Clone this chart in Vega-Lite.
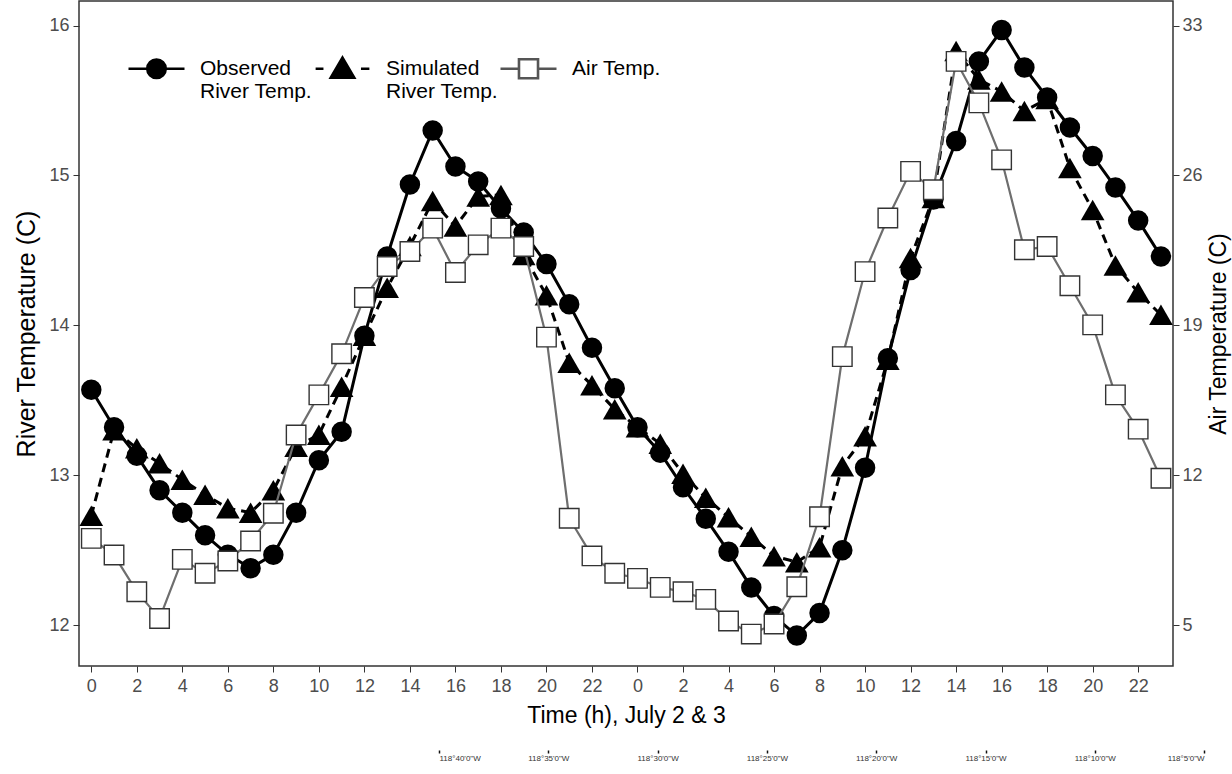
{
  "$schema": "https://vega.github.io/schema/vega-lite/v6.json",
  "width": 1094,
  "height": 665,
  "autosize": {"type": "none"},
  "padding": {"left": 79, "top": 1, "right": 59, "bottom": 108},
  "background": "white",
  "config": {
    "font": "Liberation Sans",
    "view": {"stroke": "#333333", "strokeWidth": 1.5},
    "axis": {
      "grid": false,
      "domain": false,
      "labelFont": "Liberation Sans",
      "titleFont": "Liberation Sans",
      "labelColor": "#4d4d4d",
      "tickColor": "#333333",
      "labelFontSize": 18,
      "titleFontWeight": "normal",
      "titleColor": "black"
    }
  },
  "datasets": {
    "temps": [
      {"h": 0, "obs": 13.57, "sim": 12.73, "air": 9.05},
      {"h": 1, "obs": 13.32, "sim": 13.30, "air": 8.27},
      {"h": 2, "obs": 13.13, "sim": 13.18, "air": 6.56},
      {"h": 3, "obs": 12.90, "sim": 13.08, "air": 5.31},
      {"h": 4, "obs": 12.75, "sim": 12.97, "air": 8.07},
      {"h": 5, "obs": 12.60, "sim": 12.87, "air": 7.42},
      {"h": 6, "obs": 12.47, "sim": 12.78, "air": 7.99},
      {"h": 7, "obs": 12.38, "sim": 12.75, "air": 8.93},
      {"h": 8, "obs": 12.47, "sim": 12.90, "air": 10.22},
      {"h": 9, "obs": 12.75, "sim": 13.19, "air": 13.88},
      {"h": 10, "obs": 13.10, "sim": 13.27, "air": 15.75},
      {"h": 11, "obs": 13.29, "sim": 13.59, "air": 17.67},
      {"h": 12, "obs": 13.93, "sim": 13.93, "air": 20.30},
      {"h": 13, "obs": 14.46, "sim": 14.25, "air": 21.75},
      {"h": 14, "obs": 14.94, "sim": 14.53, "air": 22.45},
      {"h": 15, "obs": 15.30, "sim": 14.83, "air": 23.54},
      {"h": 16, "obs": 15.06, "sim": 14.66, "air": 21.47},
      {"h": 17, "obs": 14.96, "sim": 14.86, "air": 22.76},
      {"h": 18, "obs": 14.78, "sim": 14.87, "air": 23.54},
      {"h": 19, "obs": 14.62, "sim": 14.47, "air": 22.68},
      {"h": 20, "obs": 14.41, "sim": 14.20, "air": 18.45},
      {"h": 21, "obs": 14.14, "sim": 13.75, "air": 9.99},
      {"h": 22, "obs": 13.85, "sim": 13.60, "air": 8.23},
      {"h": 23, "obs": 13.58, "sim": 13.44, "air": 7.42},
      {"h": 24, "obs": 13.32, "sim": 13.32, "air": 7.18},
      {"h": 25, "obs": 13.15, "sim": 13.21, "air": 6.76},
      {"h": 26, "obs": 12.92, "sim": 13.01, "air": 6.56},
      {"h": 27, "obs": 12.71, "sim": 12.85, "air": 6.20},
      {"h": 28, "obs": 12.49, "sim": 12.72, "air": 5.19},
      {"h": 29, "obs": 12.25, "sim": 12.59, "air": 4.58},
      {"h": 30, "obs": 12.06, "sim": 12.46, "air": 5.05},
      {"h": 31, "obs": 11.93, "sim": 12.42, "air": 6.79},
      {"h": 32, "obs": 12.08, "sim": 12.52, "air": 10.06},
      {"h": 33, "obs": 12.50, "sim": 13.06, "air": 17.54},
      {"h": 34, "obs": 13.05, "sim": 13.26, "air": 21.51},
      {"h": 35, "obs": 13.78, "sim": 13.77, "air": 24.01},
      {"h": 36, "obs": 14.37, "sim": 14.45, "air": 26.19},
      {"h": 37, "obs": 14.84, "sim": 14.85, "air": 25.33},
      {"h": 38, "obs": 15.23, "sim": 15.83, "air": 31.33},
      {"h": 39, "obs": 15.76, "sim": 15.64, "air": 29.39},
      {"h": 40, "obs": 15.97, "sim": 15.56, "air": 26.73},
      {"h": 41, "obs": 15.72, "sim": 15.43, "air": 22.53},
      {"h": 42, "obs": 15.52, "sim": 15.51, "air": 22.68},
      {"h": 43, "obs": 15.32, "sim": 15.05, "air": 20.85},
      {"h": 44, "obs": 15.13, "sim": 14.77, "air": 19.02},
      {"h": 45, "obs": 14.92, "sim": 14.40, "air": 15.75},
      {"h": 46, "obs": 14.70, "sim": 14.22, "air": 14.15},
      {"h": 47, "obs": 14.46, "sim": 14.07, "air": 11.86}
    ],
    "lon": [
      {"m": 40}, {"m": 35}, {"m": 30}, {"m": 25}, {"m": 20}, {"m": 15}, {"m": 10}, {"m": 5}
    ]
  },
  "layer": [
    {
      "data": {"name": "temps"},
      "encoding": {
        "x": {
          "field": "h",
          "type": "quantitative",
          "scale": {"domain": [-0.54, 47.53], "nice": false, "zero": false},
          "axis": {
            "values": [0, 2, 4, 6, 8, 10, 12, 14, 16, 18, 20, 22, 24, 26, 28, 30, 32, 34, 36, 38, 40, 42, 44, 46],
            "labelExpr": "'' + (datum.value % 24)",
            "title": "Time (h), July 2 & 3",
            "titleFontSize": 23,
            "tickSize": 6,
            "labelPadding": 5,
            "titlePadding": 9
          }
        }
      },
      "layer": [
        {
          "mark": {"type": "line", "color": "black", "strokeWidth": 3},
          "encoding": {
            "y": {
              "field": "obs",
              "type": "quantitative",
              "scale": {"domain": [11.727, 16.164], "nice": false, "zero": false},
              "axis": {
                "values": [12, 13, 14, 15, 16],
                "format": "d",
                "title": "River Temperature (C)",
                "titleFontSize": 25,
                "tickSize": 6,
                "labelPadding": 4,
                "titlePadding": 9
              }
            }
          }
        },
        {
          "mark": {"type": "point", "shape": "circle", "filled": true, "color": "black", "size": 420, "opacity": 1},
          "encoding": {"y": {"field": "obs", "type": "quantitative", "axis": {"title": "River Temperature (C)", "format": "d"}}}
        },
        {
          "mark": {"type": "line", "color": "black", "strokeWidth": 3, "strokeDash": [9, 6]},
          "encoding": {"y": {"field": "sim", "type": "quantitative", "axis": {"title": "River Temperature (C)", "format": "d"}}}
        },
        {
          "mark": {"type": "point", "shape": "triangle-up", "filled": true, "color": "black", "size": 560, "opacity": 1},
          "encoding": {"y": {"field": "sim", "type": "quantitative", "axis": {"title": "River Temperature (C)", "format": "d"}}}
        },
        {
          "transform": [{"fold": ["obs", "sim", "air"], "as": ["series", "value"]}],
          "mark": {"type": "point", "filled": true, "opacity": 0, "size": 10},
          "encoding": {
            "shape": {
              "field": "series",
              "type": "nominal",
              "scale": {
                "domain": ["obs", "sim", "air"],
                "range": [
                  "M-1,0L1,0M-0.33,0A0.33,0.33,0,1,1,0.33,0A0.33,0.33,0,1,1,-0.33,0Z",
                  "M-0.96,0L-0.68,0M0.66,0L0.96,0M0,-0.4L0.42,0.32L-0.42,0.32Z",
                  "M-1,0L-0.34,0M0.34,0L1,0M-0.34,-0.34L0.34,-0.34L0.34,0.34L-0.34,0.34Z"
                ]
              },
              "legend": {
                "title": null,
                "orient": "none",
                "legendX": 48,
                "legendY": 38,
                "direction": "horizontal",
                "symbolSize": 3136,
                "symbolStrokeWidth": 2.6,
                "symbolOpacity": 1,
                "labelFontSize": 21,
                "labelFont": "Liberation Sans",
                "labelColor": "black",
                "labelOffset": 14,
                "columnPadding": -4,
                "padding": 0,
                "labelLimit": 400,
                "labelExpr": "datum.label == 'obs' ? ['Observed', 'River Temp.'] : datum.label == 'sim' ? ['Simulated', 'River Temp.'] : ['Air Temp.', ' ']",
                "encode": {"labels": {"update": {"dy": {"value": 12}, "lineHeight": {"value": 24}}}}
              }
            },
            "fill": {
              "field": "series",
              "type": "nominal",
              "scale": {"domain": ["obs", "sim", "air"], "range": ["black", "black", "white"]}
            },
            "stroke": {
              "field": "series",
              "type": "nominal",
              "scale": {"domain": ["obs", "sim", "air"], "range": ["black", "black", "#555555"]}
            }
          }
        }
      ]
    },
    {
      "data": {"name": "temps"},
      "encoding": {
        "x": {
          "field": "h",
          "type": "quantitative",
          "scale": {"domain": [-0.54, 47.53], "nice": false, "zero": false},
          "axis": null
        },
        "y": {
          "field": "air",
          "type": "quantitative",
          "scale": {"domain": [3.089, 34.148], "nice": false, "zero": false},
          "axis": {
            "orient": "right",
            "values": [5, 12, 19, 26, 33],
            "title": "Air Temperature (C)",
            "titleFontSize": 23,
            "titleAngle": 270,
            "titleBaseline": "top",
            "tickSize": 6,
            "labelPadding": 3,
            "titlePadding": 5
          }
        }
      },
      "layer": [
        {"mark": {"type": "line", "color": "#6e6e6e", "strokeWidth": 2.2}},
        {"mark": {"type": "point", "shape": "square", "filled": true, "fill": "white", "stroke": "#333333", "strokeWidth": 1.4, "size": 380, "opacity": 1}}
      ]
    },
    {
      "data": {"name": "lon"},
      "mark": {"type": "point", "opacity": 0},
      "encoding": {
        "x": {
          "field": "m",
          "type": "quantitative",
          "scale": {"domain": [40, 5], "range": [360, 1125.1], "nice": false, "zero": false},
          "axis": {
            "orient": "bottom",
            "offset": 84,
            "values": [40, 35, 30, 25, 20, 15, 10, 5],
            "labelExpr": "'118°' + datum.value + \"'0\\\"W\"",
            "title": null,
            "labelFontSize": 8,
            "labelColor": "#333333",
            "tickColor": "#111111",
            "tickSize": 3,
            "tickWidth": 1.5,
            "labelPadding": 1
          }
        }
      }
    }
  ],
  "resolve": {"scale": {"x": "independent", "y": "independent"}}
}
